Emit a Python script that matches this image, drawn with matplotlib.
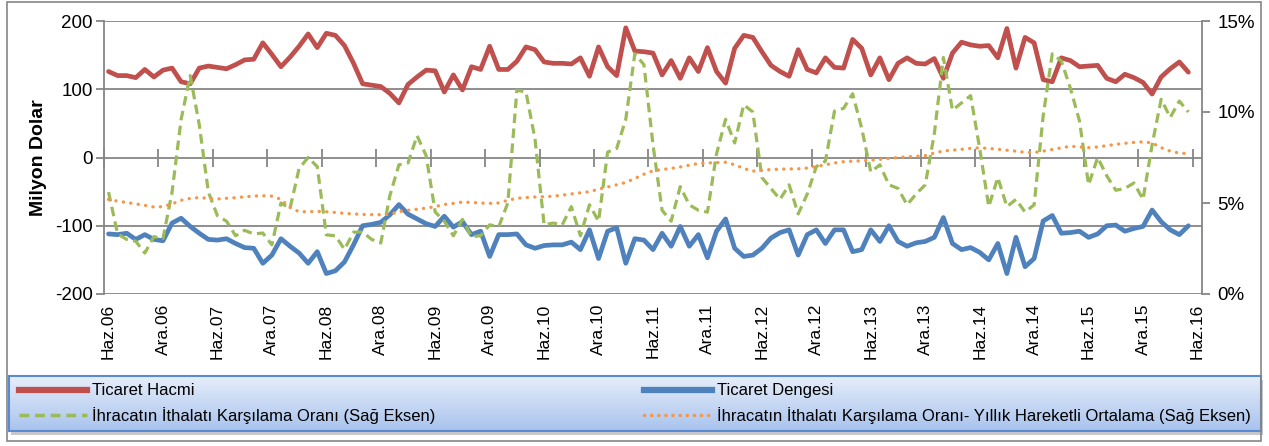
import matplotlib.pyplot as plt
from matplotlib.lines import Line2D
from matplotlib.patches import Rectangle
from matplotlib.colors import LinearSegmentedColormap
import numpy as np

plt.rcParams['font.family'] = ['Liberation Sans', 'DejaVu Sans']
plt.rcParams['axes.unicode_minus'] = False

# monthly values, Haziran 2006 - Mayis 2016
hacim = [126, 120, 120, 117, 129, 118, 128, 131, 111, 108,
         131, 134, 132, 130, 136, 143, 144, 168, 151, 133,
         147, 163, 181, 161, 182, 179, 164, 138, 108, 106,
         104, 94, 80, 107, 118, 128, 127, 96, 121, 99,
         133, 129, 163, 129, 129, 141, 162, 158, 140, 138,
         138, 137, 146, 119, 162, 133, 120, 190, 156, 155,
         153, 121, 142, 116, 146, 126, 161, 126, 109, 160,
         179, 176, 155, 135, 126, 119, 158, 129, 124, 146,
         132, 131, 173, 160, 121, 146, 114, 138, 146, 138,
         137, 145, 116, 153, 169, 165, 163, 164, 146, 189,
         131, 176, 168, 114, 111, 146, 142, 133, 134, 135,
         116, 111, 122, 117, 110, 93, 118, 130, 140, 125]

denge = [-112, -113, -111, -120, -113, -120, -122, -96, -89, -101,
         -111, -120, -121, -119, -126, -132, -133, -155, -143, -119,
         -130, -140, -155, -138, -170, -166, -153, -128, -100, -98,
         -95, -84, -69, -83, -90, -97, -101, -86, -102, -94,
         -113, -108, -145, -113, -113, -112, -128, -133, -129, -128,
         -128, -124, -135, -106, -148, -108, -103, -155, -119, -121,
         -135, -111, -130, -101, -130, -113, -147, -108, -90, -133,
         -145, -143, -133, -118, -110, -106, -143, -113, -106, -126,
         -106, -106, -138, -135, -106, -123, -100, -123, -130, -125,
         -123, -117, -88, -126, -135, -132, -139, -150, -126, -170,
         -117, -160, -148, -93, -85, -111, -110, -108, -117, -112,
         -100, -99, -108, -104, -101, -77, -94, -106, -113, -100]

oran = [5.6, 3.3, 3.0, 2.9, 2.25, 3.15, 3.05, 5.6, 9.6, 12.0,
        9.3, 5.6, 4.3, 4.0, 3.2, 3.5, 3.3, 3.35, 2.7, 5.0,
        4.7, 6.9, 7.5, 7.0, 3.25, 3.2, 2.45, 3.4, 3.4, 3.0,
        2.8, 5.4, 7.1, 7.2, 8.7, 7.6, 4.5, 4.0, 3.2, 4.1,
        3.15, 3.2, 3.8, 3.7, 5.0, 11.2, 11.1, 8.5, 3.8, 3.9,
        3.8, 4.8, 3.2, 4.9, 4.0, 7.8, 8.0, 9.6, 13.2, 12.6,
        8.2, 4.6, 4.0, 5.9, 4.9, 4.6, 4.5, 7.7, 9.6, 8.3,
        10.4, 10.0, 6.4, 5.8, 5.2, 6.0, 4.4, 5.5, 7.0, 7.3,
        10.05, 10.2, 11.0, 9.1, 6.7, 7.1, 6.0, 5.8, 4.9, 5.5,
        6.0, 8.8, 13.0, 10.1, 10.5, 10.9, 8.0, 4.8, 6.4, 4.8,
        5.2, 4.5, 4.9, 9.8, 13.2, 12.8, 11.3, 9.5, 6.0, 7.5,
        6.5, 5.7, 5.8, 6.1, 5.2, 8.2, 10.7, 9.7, 10.6, 10.0]

oran_ort = [5.2, 5.1, 5.03, 4.95, 4.87, 4.78, 4.8, 4.95, 5.15, 5.25,
            5.3, 5.25, 5.22, 5.26, 5.29, 5.34, 5.38, 5.4, 5.38, 5.2,
            4.75, 4.52, 4.52, 4.54, 4.52, 4.48, 4.43, 4.4, 4.37, 4.36,
            4.36, 4.38, 4.52, 4.6, 4.66, 4.72, 4.8, 4.92, 4.98, 5.05,
            5.03, 5.0, 4.98, 5.0, 5.15, 5.26, 5.3, 5.33, 5.35, 5.37,
            5.43, 5.5, 5.56, 5.62, 5.76, 5.88, 6.0, 6.13, 6.35, 6.58,
            6.77, 6.84, 6.9, 6.98, 7.08, 7.17, 7.2, 7.22, 7.24, 7.1,
            6.9, 6.75, 6.8, 6.84, 6.86, 6.87, 6.88, 6.92, 7.0, 7.1,
            7.2, 7.27, 7.3, 7.32, 7.35, 7.4, 7.45, 7.5, 7.54, 7.56,
            7.6, 7.75, 7.86, 7.9, 7.95, 8.0, 8.03, 8.0, 7.95, 7.9,
            7.85, 7.78, 7.77, 7.85, 7.94, 8.03, 8.12, 8.08, 8.04, 8.08,
            8.15, 8.22, 8.28, 8.33, 8.36, 8.3, 8.04, 7.85, 7.74, 7.72]

tick_labels = ['Haz.06', 'Ara.06', 'Haz.07', 'Ara.07', 'Haz.08', 'Ara.08', 'Haz.09',
               'Ara.09', 'Haz.10', 'Ara.10', 'Haz.11', 'Ara.11', 'Haz.12', 'Ara.12',
               'Haz.13', 'Ara.13', 'Haz.14', 'Ara.14', 'Haz.15', 'Ara.15', 'Haz.16']

names = ['Ticaret Hacmi', 'Ticaret Dengesi',
         'İhracatın İthalatı Karşılama Oranı (Sağ Eksen)',
         'İhracatın İthalatı Karşılama Oranı- Yıllık Hareketli Ortalama (Sağ Eksen)']

RED, BLUE, GREEN, ORANGE = '#C0504D', '#4F81BD', '#9BBB59', '#F79646'
GREY = '#868686'
W, H = 1269, 446

fig = plt.figure(figsize=(W / 100, H / 100), dpi=100)
ax = fig.add_axes([104 / W, 1 - 294 / H, (1202 - 104) / W, (294 - 21) / H])

x = np.arange(len(hacim)) + 0.5
n_cat = len(hacim) + 1

ax.plot(x, hacim, color=RED, lw=3.4, solid_joinstyle='round', solid_capstyle='round', zorder=3)
ax.plot(x, denge, color=BLUE, lw=3.4, solid_joinstyle='round', solid_capstyle='round', zorder=3)
ax.set_xlim(0, n_cat)
ax.set_ylim(-200, 200)
ax.set_yticks([-200, -100, 0, 100, 200])
ax.yaxis.grid(True, color=GREY, lw=1.3)
ax.set_axisbelow(True)
for s in ['top', 'bottom', 'right']:
    ax.spines[s].set_visible(False)
ax.spines['left'].set_color(GREY)
ax.spines['left'].set_linewidth(1.3)
ax.tick_params(axis='y', colors=GREY, length=6, width=1.3, labelsize=13.5, labelcolor='black', pad=2)

# category tick marks crossing the zero line
ax.plot(np.arange(0, n_cat, 6), np.zeros(len(tick_labels)), ls='none', marker='|',
        ms=13, mew=1.3, color=GREY, zorder=2, clip_on=False)

ax.set_xticks(np.arange(0.5, n_cat, 6))
ax.set_xticklabels(tick_labels, rotation=90, fontsize=12.5, va='top')
ax.tick_params(axis='x', length=0, pad=7)
ax.set_ylabel('Milyon Dolar', fontsize=14, fontweight='bold', labelpad=6)

ax2 = ax.twinx()
ax2.plot(x, oran, color=GREEN, lw=2.3, dashes=(3.0, 1.7), zorder=3)
ax2.plot(x, oran_ort, color=ORANGE, lw=2.4, dashes=(0.05, 2.2), dash_capstyle='round', zorder=4)
ax2.set_ylim(0, 15)
ax2.set_yticks([0, 5, 10, 15])
ax2.set_yticklabels(['0%', '5%', '10%', '15%'])
for s in ['top', 'bottom', 'left']:
    ax2.spines[s].set_visible(False)
ax2.spines['right'].set_color(GREY)
ax2.spines['right'].set_linewidth(1.3)
ax2.tick_params(axis='y', colors=GREY, length=6, width=1.3, labelsize=13.5, labelcolor='black', pad=5)

# outer chart border
fig.patches.append(Rectangle((7 / W, 1 - 441 / H), (1261 - 7) / W, (441 - 2) / H,
                             transform=fig.transFigure, fill=False, ec=GREY, lw=1.2, zorder=5))

# legend box with gradient and shadow
fig.patches.append(Rectangle((11 / W, 1 - 435 / H), 1252 / W, 55 / H, transform=fig.transFigure,
                             fc='#c8c8c8', ec='none', zorder=-1))
lax = fig.add_axes([9 / W, 1 - 431 / H, 1252 / W, 55 / H])
grad = np.linspace(0, 1, 100).reshape(-1, 1)
cmap = LinearSegmentedColormap.from_list('leg', ['#e6eefa', '#a9c3ee'])
lax.imshow(grad, aspect='auto', cmap=cmap, extent=[0, 1, 0, 1], origin='upper')
lax.set_xticks([])
lax.set_yticks([])
for s in lax.spines.values():
    s.set_color('#5a8ad0')
    s.set_linewidth(1.5)

handles = [Line2D([], [], color=RED, lw=4.5),
           Line2D([], [], color=GREEN, lw=2.5, dashes=(2.8, 1.7)),
           Line2D([], [], color=BLUE, lw=4.5),
           Line2D([], [], color=ORANGE, lw=2.5, dashes=(0.05, 2.0), dash_capstyle='round')]
labels = [names[0], names[2], names[1], names[3]]
lax.legend(handles, labels, ncol=2, loc='center', bbox_to_anchor=(0, 0, 1, 1), mode='expand',
           frameon=False, handlelength=4.1, handletextpad=0.3, labelspacing=0.5,
           borderaxespad=0.2, prop={'size': 12})

fig.savefig('out.png', dpi=100)
